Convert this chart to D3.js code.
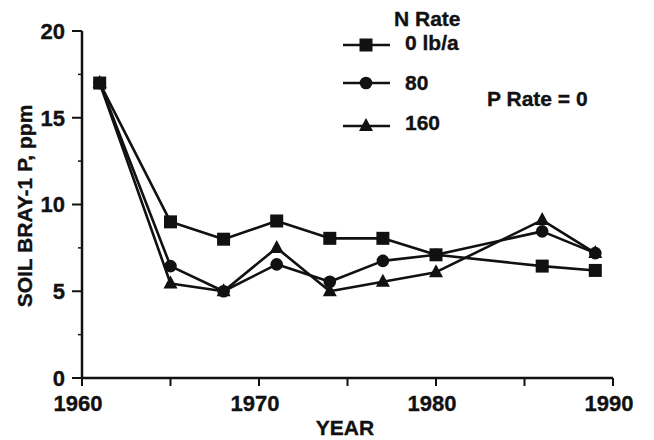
<!DOCTYPE html>
<html><head><meta charset="utf-8">
<script src="https://cdn.jsdelivr.net/npm/d3@7"></script>
<style>
body{margin:0;background:#fff;}
text{font-family:"Liberation Sans",Arial,Helvetica,sans-serif;font-weight:bold;fill:#111;stroke:#111;stroke-width:0.35px;}
</style></head>
<body><svg id="c" width="654" height="440"></svg>
<script>
const years = [1961, 1965, 1968, 1971, 1974, 1977, 1980, 1986, 1989];
const rate0 = [17.0, 9.0, 8.0, 9.05, 8.05, 8.05, 7.1, 6.45, 6.2];
const rate80 = [17.0, 6.45, 5.0, 6.55, 5.55, 6.75, 7.1, 8.45, 7.2];
const rate160 = [17.0, 5.45, 5.0, 7.5, 5.0, 5.55, 6.1, 9.1, 7.2];
const seriesNames = ["0 lb/a", "80", "160"];
const seriesSymbols = ["square", "circle", "triangle"];
const xMajorTicks = [1960, 1970, 1980, 1990];
const xMinorTicks = [1965, 1975, 1985];
const yMajorTicks = [0, 5, 10, 15, 20];
const yMinorTicks = [2.5, 7.5, 12.5, 17.5];

const svg = d3.select("#c");
const x = d3.scaleLinear().domain([1960, 1990]).range([82, 613]);
const y = d3.scaleLinear().domain([0, 20]).range([378, 31]);
const ink = "#111";

svg.append("line").attr("x1", x(1960)).attr("x2", x(1960)).attr("y1", y(20)).attr("y2", y(0))
  .attr("stroke", ink).attr("stroke-width", 2.5);
svg.append("line").attr("x1", x(1960)).attr("x2", x(1990)).attr("y1", y(0)).attr("y2", y(0))
  .attr("stroke", ink).attr("stroke-width", 2.5);

svg.selectAll(".ymaj").data(yMajorTicks).join("line")
  .attr("x1", x(1960) - 10).attr("x2", x(1960)).attr("y1", d => y(d)).attr("y2", d => y(d))
  .attr("stroke", ink).attr("stroke-width", 2);
svg.selectAll(".ymin").data(yMinorTicks).join("line")
  .attr("x1", x(1960) - 4).attr("x2", x(1960)).attr("y1", d => y(d)).attr("y2", d => y(d))
  .attr("stroke", ink).attr("stroke-width", 1.5);
svg.selectAll(".ylab").data(yMajorTicks).join("text")
  .attr("x", 65).attr("y", d => y(d)).attr("dy", "0.36em")
  .attr("text-anchor", "end").attr("font-size", 22).text(d => d);

svg.selectAll(".xmaj").data(xMajorTicks.concat(xMinorTicks)).join("line")
  .attr("x1", d => x(d)).attr("x2", d => x(d)).attr("y1", y(0)).attr("y2", y(0) + 8)
  .attr("stroke", ink).attr("stroke-width", 2);
svg.selectAll(".xlab").data(xMajorTicks).join("text")
  .attr("x", d => x(d) - 4).attr("y", 411)
  .attr("text-anchor", "middle").attr("font-size", 22).text(d => d);

svg.append("text").attr("x", 345).attr("y", 435).attr("text-anchor", "middle")
  .attr("font-size", 21).text("YEAR");
svg.append("text").attr("transform", "translate(32,206) rotate(-90)")
  .attr("text-anchor", "middle").attr("font-size", 21).text("SOIL BRAY-1 P, ppm");

function drawSymbol(g, type, cx, cy) {
  if (type === "square") {
    g.append("rect").attr("x", cx - 6.5).attr("y", cy - 6.5).attr("width", 13).attr("height", 13).attr("fill", ink);
  } else if (type === "circle") {
    g.append("circle").attr("cx", cx).attr("cy", cy).attr("r", 6.3).attr("fill", ink);
  } else {
    g.append("path").attr("d", `M${cx},${cy - 8}L${cx + 7},${cy + 5}L${cx - 7},${cy + 5}Z`).attr("fill", ink);
  }
}

const allSeries = [rate0, rate80, rate160];
const line = d3.line().x((d, i) => x(years[i])).y(d => y(d));
allSeries.forEach((vals, k) => {
  const g = svg.append("g");
  g.append("path").datum(vals).attr("d", line).attr("fill", "none")
    .attr("stroke", ink).attr("stroke-width", 2.6).attr("stroke-linejoin", "round");
  vals.forEach((v, i) => drawSymbol(g, seriesSymbols[k], x(years[i]), y(v)));
});

svg.append("text").attr("x", 394).attr("y", 26).attr("font-size", 21).text("N Rate");
const legY = [45, 83, 126];
const legTY = [50, 90, 130];
seriesNames.forEach((n, k) => {
  const g = svg.append("g");
  g.append("line").attr("x1", 343).attr("x2", 390).attr("y1", legY[k]).attr("y2", legY[k])
    .attr("stroke", ink).attr("stroke-width", 2.6);
  drawSymbol(g, seriesSymbols[k], 366, legY[k]);
  g.append("text").attr("x", 405).attr("y", legTY[k]).attr("font-size", 21).text(n);
});
svg.append("text").attr("x", 487).attr("y", 106).attr("font-size", 21).text("P Rate = 0");
</script></body></html>
